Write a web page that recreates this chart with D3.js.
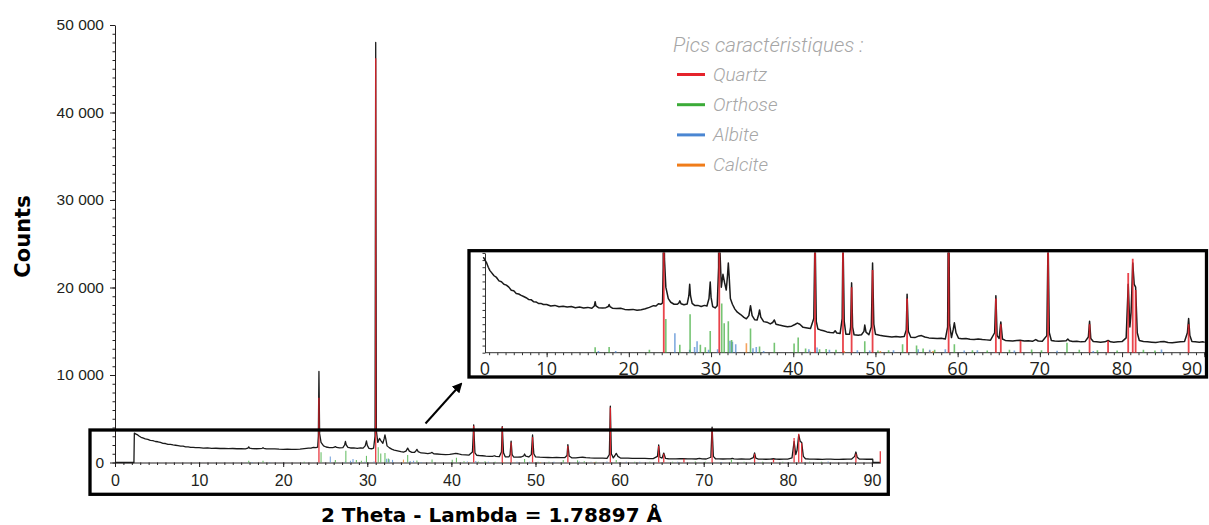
<!DOCTYPE html>
<html>
<head>
<meta charset="utf-8">
<script src="https://cdn.jsdelivr.net/npm/d3@7/dist/d3.min.js"></script>
<style>
  body { margin: 0; background: #fff; }
  svg { display: block; }
</style>
</head>
<body>
<div class="chart"></div>
<script>
// XRD SCAN - counts vs 2 theta
const scan = [
  [0, 0], [2.25, 0], [2.3, 3350], [2.5, 3250], [2.7, 3150], [2.9, 3000], [3.1, 2880], [3.3, 2810],
  [3.6, 2700], [3.9, 2640], [4.2, 2520], [4.5, 2490], [4.8, 2400], [5.1, 2370], [5.4, 2300],
  [5.7, 2190], [6.0, 2170], [6.3, 2080], [6.6, 2060], [6.9, 2010], [7.2, 1970], [7.5, 1930],
  [7.8, 1870], [8.1, 1860], [8.4, 1790], [8.7, 1780], [9.0, 1730], [9.3, 1730], [9.6, 1690],
  [10.0, 1690], [10.5, 1640], [11.0, 1660], [11.5, 1610], [12.0, 1630], [12.5, 1600], [13.0, 1620],
  [13.5, 1580], [14.0, 1600], [14.5, 1570], [15.0, 1590], [15.5, 1560], [15.8, 1640], [15.9, 1790],
  [16.0, 1640], [16.3, 1580], [16.8, 1570], [17.2, 1580], [17.5, 1620], [17.6, 1690], [17.7, 1620],
  [18.0, 1560], [18.5, 1550], [19.0, 1560], [19.5, 1520], [20.0, 1510], [20.5, 1520], [21.0, 1490],
  [21.5, 1510], [22.0, 1540], [22.5, 1590], [23.0, 1650], [23.3, 1640], [23.6, 1720], [23.9, 1700],
  [24.1, 1750], [24.18, 3000], [24.25, 10400], [24.33, 3300], [24.5, 2300], [24.8, 1900],
  [25.1, 1770], [25.5, 1700], [25.9, 1700], [26.1, 1750], [26.2, 1820], [26.35, 1720], [26.7, 1680],
  [27.1, 1710], [27.3, 2000], [27.4, 2400], [27.5, 2000], [27.7, 1730], [28.0, 1660], [28.4, 1660],
  [28.8, 1620], [29.2, 1660], [29.5, 1640], [29.75, 1900], [29.9, 2480], [30.0, 1950], [30.2, 1620],
  [30.5, 1570], [30.75, 1650], [30.92, 3000], [31.0, 48000], [31.08, 3600], [31.25, 2300],
  [31.45, 2750], [31.65, 2450], [31.85, 2200], [32.0, 2700], [32.1, 3150], [32.2, 2700],
  [32.35, 1900], [32.6, 1700], [32.9, 1530], [33.2, 1420], [33.6, 1340], [34.0, 1240], [34.3, 1190],
  [34.6, 1300], [34.8, 1650], [35.0, 1300], [35.3, 1160], [35.6, 1150], [35.8, 1350], [35.9, 1500],
  [36.05, 1250], [36.4, 1090], [36.8, 1070], [37.2, 1010], [37.5, 1060], [37.7, 1150], [37.9, 1000],
  [38.3, 970], [38.8, 940], [39.3, 910], [39.8, 930], [40.2, 990], [40.5, 1040], [40.8, 1000],
  [41.2, 890], [41.7, 870], [42.1, 850], [42.5, 1200], [42.65, 4300], [42.8, 1100], [43.0, 830],
  [43.3, 800], [43.7, 770], [44.1, 730], [44.5, 710], [44.9, 700], [45.1, 770], [45.3, 690],
  [45.7, 670], [45.95, 1200], [46.05, 4100], [46.2, 1100], [46.4, 650], [46.85, 650], [46.98, 900],
  [47.1, 2450], [47.22, 900], [47.4, 630], [47.9, 610], [48.3, 630], [48.6, 750], [48.7, 970],
  [48.85, 720], [49.2, 630], [49.5, 900], [49.65, 3150], [49.8, 1000], [50.0, 650], [50.5, 610],
  [51.0, 590], [51.5, 570], [52.0, 550], [52.5, 570], [53.0, 550], [53.5, 570], [53.75, 800],
  [53.85, 2050], [54.0, 750], [54.3, 540], [54.8, 530], [55.3, 590], [55.6, 600], [56.0, 550],
  [56.5, 520], [57.0, 510], [57.5, 500], [58.0, 510], [58.5, 480], [58.78, 900], [58.9, 6450],
  [59.02, 1000], [59.25, 530], [59.45, 800], [59.6, 1050], [59.8, 700], [60.1, 510], [60.5, 490],
  [61.0, 500], [61.5, 470], [62.0, 460], [62.5, 480], [63.0, 460], [63.5, 450], [64.0, 440],
  [64.5, 700], [64.65, 2000], [64.8, 600], [65.05, 500], [65.25, 1080], [65.45, 480], [65.8, 430],
  [66.2, 420], [66.7, 410], [67.2, 430], [67.6, 440], [68.1, 410], [68.6, 420], [69.1, 400],
  [69.5, 460], [69.8, 410], [70.3, 400], [70.85, 600], [71.0, 4050], [71.15, 700], [71.4, 430],
  [71.8, 410], [72.3, 400], [72.8, 410], [73.2, 420], [73.4, 480], [73.6, 420], [74.0, 390],
  [74.5, 400], [75.0, 380], [75.5, 390], [75.9, 550], [76.05, 1100], [76.2, 500], [76.5, 390],
  [76.9, 380], [77.4, 370], [77.9, 380], [78.3, 430], [78.6, 380], [79.0, 370], [79.5, 380],
  [80.0, 390], [80.5, 520], [80.75, 2400], [80.95, 900], [81.1, 1400], [81.3, 3150], [81.48, 2400],
  [81.65, 2300], [81.85, 700], [82.1, 430], [82.6, 390], [83.1, 380], [83.6, 370], [84.1, 360],
  [84.6, 380], [85.1, 390], [85.6, 360], [86.1, 350], [86.6, 370], [87.1, 380], [87.6, 390],
  [87.95, 700], [88.1, 1200], [88.25, 600], [88.5, 390], [88.9, 380], [89.4, 370], [89.8, 380],
  [90.1, 370], [90.12, 0], [91.0, 0]
];

// reference peaks (2 theta, counts)
const quartz = [
  [24.25, 7400], [31.0, 46200], [42.65, 4200], [46.05, 4100], [47.1, 2300], [49.65, 2900],
  [53.85, 1900], [58.9, 6300], [64.65, 1900], [65.25, 1000], [67.65, 420], [71.0, 3900],
  [76.05, 1000], [78.3, 420], [80.75, 2800], [81.3, 3300], [81.65, 2200], [88.1, 1000], [91.0, 1300]
];
const orthose = [
  [15.9, 190], [17.6, 200], [22.5, 100], [24.5, 1180], [26.2, 280], [27.45, 1350], [28.7, 280],
  [29.3, 190], [29.9, 760], [31.3, 1730], [31.6, 1030], [32.1, 1100], [32.5, 450], [34.8, 850],
  [35.9, 220], [37.7, 350], [40.1, 320], [40.6, 530], [41.5, 150], [43.2, 120], [44.0, 130],
  [45.2, 100], [48.7, 400], [50.3, 80], [51.6, 90], [53.3, 300], [55.0, 250], [55.8, 150],
  [57.2, 100], [59.6, 300], [61.8, 90], [63.6, 80], [66.3, 100], [69.0, 110], [70.2, 90],
  [73.3, 350], [74.8, 100], [77.0, 90], [79.4, 80], [82.6, 100], [84.0, 80]
];
const albite = [
  [16.3, 60], [18.4, 60], [25.6, 680], [27.4, 100], [28.0, 200], [28.3, 400], [29.7, 100],
  [30.8, 120], [32.3, 420], [32.6, 380], [33.0, 300], [35.1, 160], [35.5, 200], [36.4, 60],
  [41.9, 120], [42.9, 180], [44.4, 100], [47.8, 90], [49.3, 80], [52.2, 90], [55.2, 120],
  [56.6, 100], [58.5, 120], [60.8, 80], [62.4, 90], [66.9, 80], [72.1, 70], [76.5, 60], [84.8, 110]
];
const calcite = [
  [34.3, 330], [42.0, 50], [46.2, 60], [50.6, 60], [56.6, 70], [57.0, 60]
];

const mineralNames = ['Quartz', 'Orthose', 'Albite', 'Calcite'];
const mineralColors = ['#e5232b', '#3bab38', '#4a86d2', '#f07c19'];
const mineralPeaks = [quartz, orthose, albite, calcite];

const xTicks = [0, 10, 20, 30, 40, 50, 60, 70, 80, 90];
const yTicks = [0, 10000, 20000, 30000, 40000, 50000];

const W = 1209, H = 525;
const svg = d3.select('.chart')
  .append('svg')
    .attr('width', W)
    .attr('height', H)
    .style('font-family', '"Open Sans", sans-serif');

// french style thousands
const fr = d3.formatLocale({ decimal: ',', thousands: '\u00a0', grouping: [3], currency: ['', ' €'] });
const fmt = fr.format(',d');

// ---------- MAIN CHART ----------
const x = d3.scaleLinear().domain([0, 91]).range([115, 880.3]);
const y = d3.scaleLinear().domain([0, 50000]).range([462.5, 25]);

// minor y ticks
svg.append('g')
    .attr('transform', 'translate(115,0)')
  .call(d3.axisLeft(y).tickValues(d3.range(0, 50001, 1000)).tickSize(2.5).tickSizeOuter(0).tickFormat(''))
  .call(g => g.select('.domain').remove());

const yAxis = svg.append('g')
    .attr('transform', 'translate(115,0)')
  .call(d3.axisLeft(y).tickValues(yTicks).tickSize(5).tickSizeOuter(0).tickPadding(6).tickFormat(fmt));
yAxis.selectAll('text').style('font-size', '15.5px').style('fill', '#231f20');

// minor x ticks
svg.append('g')
    .attr('transform', 'translate(0,462.5)')
  .call(d3.axisBottom(x).tickValues(d3.range(0, 91, 1)).tickSize(2.5).tickSizeOuter(0).tickFormat(''))
  .call(g => g.select('.domain').remove());

const xAxis = svg.append('g')
    .attr('transform', 'translate(0,462.5)')
  .call(d3.axisBottom(x).tickValues(xTicks).tickSize(4.5).tickSizeOuter(0).tickPadding(8));
xAxis.selectAll('text').style('font-size', '16px').style('fill', '#231f20');

svg.selectAll('.domain, .tick line').attr('stroke', '#231f20');

const line = d3.line().x(d => x(d[0])).y(d => y(d[1]));

svg.append('path')
    .datum(scan)
    .attr('d', line)
    .attr('fill', 'none')
    .attr('stroke', '#1a1a1a')
    .attr('stroke-width', 1.3)
    .attr('stroke-linejoin', 'round');

// reference sticks (quartz last so it sits on top)
[3, 2, 1, 0].forEach(i => {
  svg.append('g')
    .selectAll('line')
    .data(mineralPeaks[i])
    .enter()
    .append('line')
      .attr('x1', d => x(d[0]))
      .attr('x2', d => x(d[0]))
      .attr('y1', y(0))
      .attr('y2', d => y(d[1]))
      .attr('stroke', mineralColors[i])
      .attr('stroke-width', i === 0 ? 1.3 : 1.1)
      .attr('stroke-opacity', i === 0 ? 0.9 : 0.75);
});

// zoom frame on the main chart
svg.append('rect')
    .attr('x', 90).attr('y', 430)
    .attr('width', 798.3).attr('height', 64.3)
    .attr('fill', 'none')
    .attr('stroke', '#000')
    .attr('stroke-width', 3.3);

// arrow
svg.append('defs').append('marker')
    .attr('id', 'head')
    .attr('viewBox', '0 0 10 10')
    .attr('refX', 8).attr('refY', 5)
    .attr('markerWidth', 5).attr('markerHeight', 5)
    .attr('orient', 'auto')
  .append('path')
    .attr('d', 'M0,0L10,5L0,10z')
    .attr('fill', '#000');

svg.append('line')
    .attr('x1', 425.5).attr('y1', 423.5)
    .attr('x2', 461).attr('y2', 384)
    .attr('stroke', '#000')
    .attr('stroke-width', 2)
    .attr('marker-end', 'url(#head)');

// axis titles
svg.append('text')
    .attr('transform', 'translate(30,236.5) rotate(-90)')
    .attr('text-anchor', 'middle')
    .style('font-family', '"DejaVu Sans", sans-serif')
    .style('font-weight', 700)
    .style('font-size', '21px')
    .text('Counts');

svg.append('text')
    .attr('x', 491.5).attr('y', 521.5)
    .attr('text-anchor', 'middle')
    .style('font-family', '"DejaVu Sans", sans-serif')
    .style('font-weight', 700)
    .style('font-size', '20px')
    .text('2 Theta - Lambda = 1.78897 Å');

// ---------- INSET (zoom on the base of the pattern) ----------
const xi = d3.scaleLinear().domain([2.5, 90]).range([485, 1204.25]);
const yi = d3.scaleLinear().domain([0, 3500]).range([352.7, 252.95]);

svg.select('defs').append('clipPath')
    .attr('id', 'insetClip')
  .append('rect')
    .attr('x', 470.7).attr('y', 252.4)
    .attr('width', 734).attr('height', 123);

const inset = svg.append('g');

// inset y axis (ticks only)
inset.append('g')
    .attr('transform', 'translate(485,0)')
  .call(d3.axisLeft(yi).tickValues(d3.range(0, 3501, 250)).tickSize(2.5).tickSizeOuter(0).tickFormat(''));

// inset x axis
inset.append('g')
    .attr('transform', 'translate(0,352.7)')
  .call(d3.axisBottom(xi).tickValues(d3.range(3, 91, 1)).tickSize(2.5).tickSizeOuter(0).tickFormat(''))
  .call(g => g.select('.domain').attr('d', 'M485,0H1205'));
inset.append('g')
    .attr('transform', 'translate(0,352.7)')
  .call(d3.axisBottom(xi).tickValues(xTicks.slice(1)).tickSize(4.5).tickFormat(''))
  .call(g => g.select('.domain').remove());

inset.selectAll('.domain, .tick line').attr('stroke', '#333');

// inset tick labels, 0 and 90 pushed inside the frame
inset.append('g')
  .selectAll('text')
  .data(xTicks)
  .enter()
  .append('text')
    .attr('x', d => Math.min(Math.max(xi(d), 485), 1192))
    .attr('y', 375)
    .attr('text-anchor', 'middle')
    .style('font-size', '18px')
    .style('fill', '#231f20')
    .text(d => d);

const plot = inset.append('g').attr('clip-path', 'url(#insetClip)');

const lineI = d3.line().x(d => xi(d[0])).y(d => yi(d[1]));

plot.append('path')
    .datum(scan.filter(d => d[0] >= 2.3 && d[0] <= 90.1))
    .attr('d', lineI)
    .attr('fill', 'none')
    .attr('stroke', '#1a1a1a')
    .attr('stroke-width', 1.5)
    .attr('stroke-linejoin', 'round');

[3, 2, 1, 0].forEach(i => {
  plot.append('g')
    .selectAll('line')
    .data(mineralPeaks[i])
    .enter()
    .append('line')
      .attr('x1', d => xi(d[0]))
      .attr('x2', d => xi(d[0]))
      .attr('y1', yi(0))
      .attr('y2', d => yi(d[1]))
      .attr('stroke', mineralColors[i])
      .attr('stroke-width', i === 0 ? 1.8 : 1.6)
      .attr('stroke-opacity', i === 0 ? 0.85 : 0.7);
});

svg.append('rect')
    .attr('x', 469).attr('y', 250.7)
    .attr('width', 737.5).attr('height', 126.3)
    .attr('fill', 'none')
    .attr('stroke', '#000')
    .attr('stroke-width', 3.3);

// ---------- LEGEND ----------
const legend = svg.append('g')
    .style('font-family', 'Roboto, sans-serif')
    .style('font-style', 'italic')
    .style('font-weight', 300)
    .style('fill', '#a6a6a6');

legend.append('text')
    .attr('x', 673).attr('y', 51.7)
    .style('font-size', '20.5px')
    .text('Pics caractéristiques :');

const items = legend.selectAll('.item')
  .data(mineralNames)
  .enter()
  .append('g')
    .attr('class', 'item')
    .attr('transform', (d, i) => `translate(0, ${74.5 + i * 30.2})`);

items.append('line')
    .attr('x1', 677).attr('x2', 705)
    .attr('stroke', (d, i) => mineralColors[i])
    .attr('stroke-width', 3);

items.append('text')
    .attr('x', 713).attr('y', 6)
    .style('font-size', '19px')
    .text(d => d);
</script>
</body>
</html>
